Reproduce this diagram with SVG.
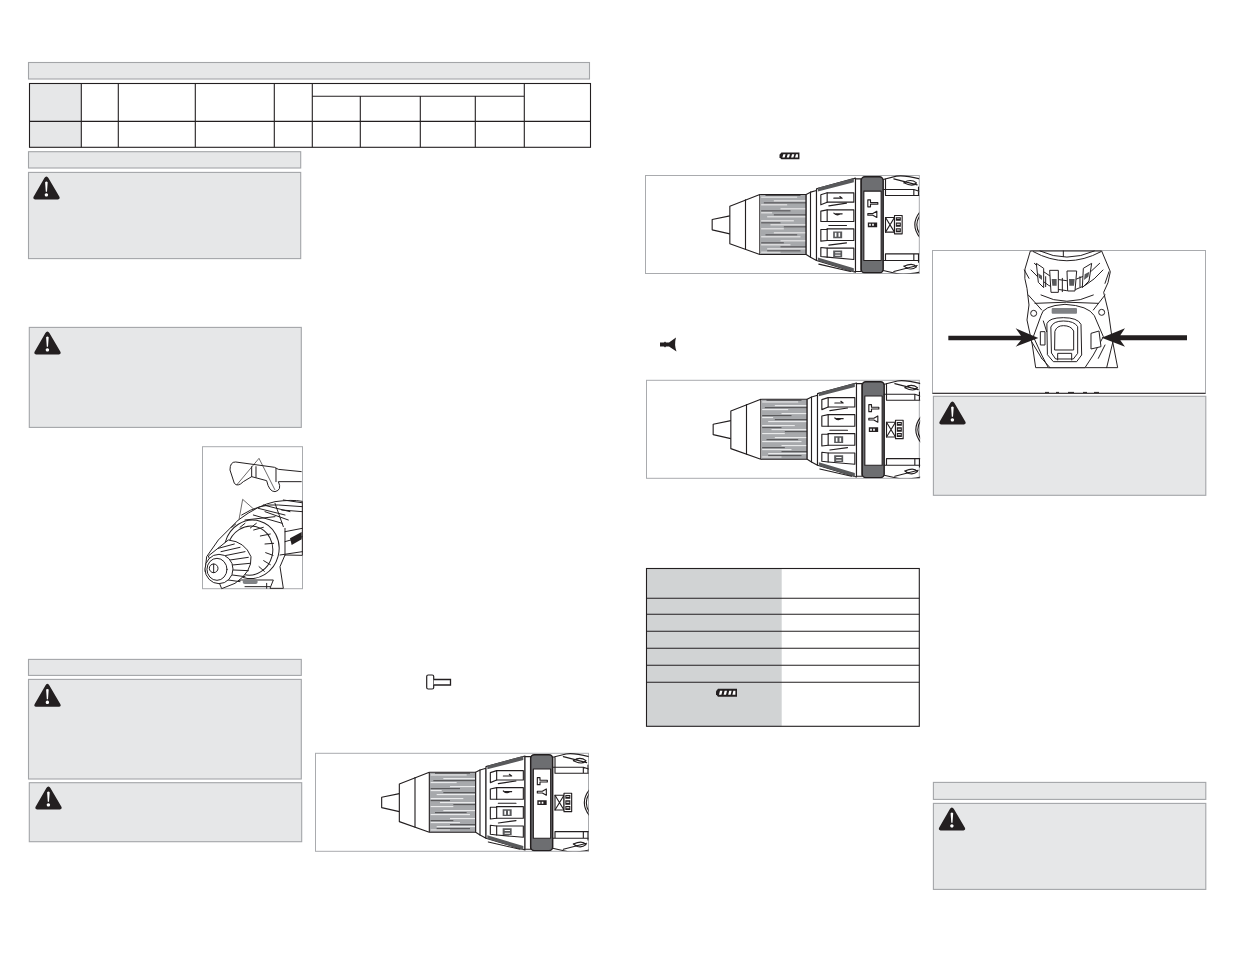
<svg xmlns="http://www.w3.org/2000/svg" width="1235" height="954" viewBox="0 0 1235 954">
<style>
.band{fill:#e6e7e8;stroke:#a3a5a8;stroke-width:1.1}
.tl{stroke:#231f20;stroke-width:1.1;fill:none}
.frame{fill:#fff;stroke:#a9abae;stroke-width:1}
.d{fill:none;stroke:#231f20;stroke-width:3.4;stroke-linejoin:round;stroke-linecap:round}
.dw{fill:#fff;stroke:#231f20;stroke-width:3.4;stroke-linejoin:round}
.dg{fill:#6d6e71;stroke:#231f20;stroke-width:4.5}
.k{fill:#231f20}
.m{fill:#58595b}
.gs{stroke:#fff;stroke-width:2.6;fill:none}
.ks{stroke:#414042;stroke-width:2.6;fill:none}
.p{fill:none;stroke:#231f20;stroke-width:3;stroke-linejoin:round;stroke-linecap:round}
.pt{fill:none;stroke:#231f20;stroke-width:2}
.pw{fill:#fff;stroke:#231f20;stroke-width:3;stroke-linejoin:round}
</style>
<defs>
<clipPath id="dc"><rect x="0" y="0" width="836" height="384"/></clipPath>
<g id="warn">
<path class="k" d="M13.4 0.4Q14.6 0.4 15.4 2L26.4 20.8Q27.4 23.2 25 23.4H2Q-0.4 23.2 0.6 20.8L11.4 2Q12.2 0.4 13.4 0.4Z"/>
<path fill="#fff" d="M12.1 6.2Q13.4 4.8 14.7 6.2L14 15.8H12.8ZM13.4 17.2a1.7 1.7 0 1 1 -0.01 0Z"/>
</g>
<g id="batt">
<path class="k" d="M0 2.5L2 0H21V8H2L0 5.5Z"/>
<path fill="#fff" d="M4 2h2.4l-1 4H3ZM8.6 2H11l-1 4H7.6ZM13.2 2h2.4l-1 4h-2.4ZM17.4 2h2v4h-3Z"/>
</g>
<g id="drill" clip-path="url(#dc)">
<path class="d" d="M268 211L215 222V253L268 265"/>
<path class="dw" d="M268 182L358 147V327L268 295Z"/>
<path class="d" d="M315 163V311"/>
<rect x="360" y="148" width="137" height="179" fill="#a7a9ac"/>
<path class="gs" d="M362 155H470M400 166H497M362 178H440M420 190H497M362 202H395M380 214H497M362 226H460M390 238H497M362 250H430M400 262H497M362 274H480M420 286H497M362 298H450M380 310H497M362 320H420"/>
<path class="ks" d="M375 150H480M370 172H497M362 196H450M400 208H497M362 232H420M430 244H497M375 268H470M362 292H430M420 304H497M380 316H480"/>
<path class="d" d="M360 147H497M360 327H497M497 147V327"/>
<path class="dw" d="M497 147L510 140L528 135V345L510 335L497 327Z"/>
<path class="d" d="M510 140V335"/>
<path class="dw" d="M528 130L645 98V380L528 345Z"/>
<path class="m" d="M532 127L640 98V110L532 138ZM532 346L640 380V368L532 336Z"/>
<g class="dw">
<path d="M541 148L560 142H640V170H560L541 178Z"/>
<path d="M541 197L560 193H640V228H560L541 228Z"/>
<path d="M541 252H560V250H640V285H560L541 287Z"/>
<path d="M541 306L560 308H640V342L560 335L541 333Z"/>
</g>
<path class="d" d="M560 142V170M560 193V228M560 250V285M560 308V335"/>
<path class="d" d="M565 181L618 173M565 240H618M565 299L618 292M535 356L630 378"/>
<path class="d" stroke-width="2.4" d="M580 158H605L598 153M585 205H605M580 203Q590 212 600 205"/>
<path class="m" d="M578 258H605V278H578ZM578 315H605V335H578Z"/>
<path fill="#fff" d="M583 262H588V274H583ZM594 262H599V274H594ZM584 320H600V323H584ZM584 328H600V331H584Z"/>
<path class="dw" d="M645 100H662V378H645Z"/>
<rect class="dg" x="662" y="94" width="66" height="288" rx="11"/>
<rect class="dw" x="670" y="137" width="52" height="208"/>
<path class="d" stroke-width="3" d="M682 163H690V171H712V176H690V184H682Z"/>
<path class="d" stroke-width="3" d="M682 204H697L709 197V216L697 209H682Z"/>
<path class="k" d="M682 231H710V245H682Z"/>
<path fill="#fff" d="M686 235H691V241H686ZM695 235H700V241H695Z"/>
<path class="d" stroke-width="3" d="M728 132H820L838 138M735 132V100M728 102L768 92Q790 88 838 100M760 100L830 118M790 112Q810 98 828 112Q818 126 790 112M820 132V150M834 125V150M735 150H838M735 132V150"/>
<path class="d" stroke-width="3" d="M728 345H838M735 325H838M735 325V345M820 325V345M834 325V350M728 375L768 384Q790 390 838 380M760 378L830 360M790 362Q810 378 828 364Q818 350 790 362"/>
<path class="d" stroke-width="3" d="M838 200Q808 238 838 276M838 210Q820 238 838 266"/>
<path class="dw" stroke-width="3" d="M735 216H762V260H735Z"/>
<path class="d" stroke-width="3" d="M735 216L762 260M762 216L735 260"/>
<rect class="dw" stroke-width="3" x="762" y="210" width="23" height="55"/>
<path class="k" d="M766 215H781V226H766ZM766 231H781V244H766ZM766 248H781V260H766Z"/>
<path fill="#fff" d="M769 218H778V220H769ZM769 235H778V238H769ZM769 252H778V255H769Z"/>
</g>
</defs>

<g id="header-specs"><rect class="band" x="28.5" y="62.5" width="561" height="16.5"/></g>
<g id="spec-table">
<rect x="29.5" y="83.5" width="51.8" height="63.8" fill="#e6e7e8"/>
<rect class="tl" x="29.5" y="83.5" width="561" height="63.8"/>
<path class="tl" d="M81.3 83.5V147.3M118.3 83.5V147.3M195.3 83.5V147.3M274.3 83.5V147.3M312.3 83.5V147.3M360.3 96.3V147.3M420.3 96.3V147.3M475.3 96.3V147.3M524.3 83.5V147.3M29.5 121.4H590.5M312.3 96.3H524.3"/>
</g>
<g id="header-symbology"><rect class="band" x="28.5" y="151.7" width="272.2" height="16.3"/></g>
<g id="warning-1"><rect class="band" x="28.5" y="172.4" width="272.2" height="86.2"/><use href="#warn" x="33" y="176"/></g>
<g id="warning-2"><rect class="band" x="29.3" y="327.4" width="272" height="100"/><use href="#warn" x="34" y="331"/></g>

<g id="photo-handle">
<rect class="frame" x="202.5" y="446.7" width="100" height="142"/>
<g transform="translate(195 440) scale(.33333)">
<path class="pw" d="M320 95L250 88Q240 80 225 80L122 66Q105 65 105 90L118 130Q128 142 145 125L170 110L215 122Q222 155 240 155Q262 150 250 125L320 125"/>
<path class="p" d="M170 80V110M183 80V112M243 85V125"/>
<path class="pt" d="M192 55L125 135M192 55L240 150M143 178L130 250M143 178L230 255"/>
<path class="pw" d="M130 240Q190 195 240 185Q290 178 322 184V346L270 345L255 380L265 445H225L235 420H140L70 430L30 395L35 350L70 300Z"/>
<path class="p" d="M140 225Q195 190 250 195L322 200M190 205L270 225M205 195L285 215M260 210L322 215M150 240L240 230M270 275L322 265M270 305L322 290M270 265V345M240 190L265 260M210 215L280 240M175 225L262 250M265 180L320 188M255 345L322 335"/>
<path fill="#231f20" d="M285 295L320 276V298L290 315Z"/>
<ellipse class="pw" cx="170" cy="328" rx="82" ry="88" transform="rotate(15 170 328)"/>
<ellipse class="p" cx="165" cy="332" rx="68" ry="74" transform="rotate(15 165 332)"/>
<path class="p" stroke-width="6" d="M176 270L205 262M196 288L226 282M210 312L236 310M212 338L234 346M206 362L226 374M192 380L208 394M166 264L184 250M135 262L150 250M110 262L122 252"/>
<path class="pw" d="M40 348L100 300Q150 305 168 350Q172 395 120 430L80 446Z"/>
<path class="p" d="M70 325L118 312M78 335L135 322M90 347L150 335M105 360L160 352M112 375L165 370M115 390L160 392M112 405L150 410M100 420L135 425"/>
<ellipse class="pw" cx="72" cy="387" rx="42" ry="44"/>
<ellipse class="p" cx="66" cy="388" rx="30" ry="33"/>
<circle class="pw" cx="56" cy="385" r="13"/>
<path class="p" d="M56 372V398"/>
<rect x="143" y="419" width="45" height="13" rx="6" fill="#808285"/>
<path class="p" d="M215 430V445M150 440L225 440"/>
</g>
</g>

<g id="header-maintenance"><rect class="band" x="28.5" y="659.4" width="272.8" height="16"/></g>
<g id="warning-3"><rect class="band" x="28.5" y="679.4" width="272.8" height="99.6"/><use href="#warn" x="34" y="683.4"/></g>
<g id="warning-4"><rect class="band" x="29.3" y="782.7" width="272.4" height="59"/><use href="#warn" x="35" y="786"/></g>

<g id="icon-hammer">
<rect x="426.7" y="675" width="7" height="14" rx="1.5" fill="#fff" stroke="#231f20" stroke-width="1.2"/>
<path d="M433.7 679.5H450.5V685H433.7" fill="#fff" stroke="#231f20" stroke-width="1.3"/>
</g>
<g id="figure-hammer">
<rect class="frame" x="315.5" y="753.3" width="273" height="98"/>
<g transform="translate(310 723.3) scale(.33333)"><use href="#drill"/></g>
</g>

<g id="icon-battery-top"><use href="#batt" transform="translate(779.5 152.5) scale(.95 .85)"/></g>
<g id="figure-battery">
<rect class="frame" x="645.5" y="175.5" width="273.8" height="98"/>
<g transform="translate(640.5 145.5) scale(.33333)"><use href="#drill"/></g>
</g>
<g id="icon-screw">
<path class="k" d="M660 342.5H664L665 341.5L666 342.5H669L676 337.5Q674 344.5 676.5 351.5L669 346.5H666L665 347.5L664 346.5H660Z"/>
</g>
<g id="figure-screw">
<rect class="frame" x="646.5" y="380.3" width="272.8" height="98"/>
<g transform="translate(641.5 350.3) scale(.33333)"><use href="#drill"/></g>
</g>

<g id="torque-table">
<rect x="646.5" y="568.5" width="135.2" height="157.8" fill="#d1d3d4"/>
<rect class="tl" x="646.5" y="568.5" width="272.8" height="157.8"/>
<path class="tl" d="M646.5 598.3H919.3M646.5 614.3H919.3M646.5 631.3H919.3M646.5 648.3H919.3M646.5 665.3H919.3M646.5 682.3H919.3"/>
<use href="#batt" x="716" y="688.8"/>
</g>

<g id="figure-top-view">
<rect class="frame" x="932.5" y="250.5" width="273" height="142.8"/>
<path stroke="#231f20" stroke-width="1" d="M932.5 393.3H1205.5"/>
<path stroke="#231f20" stroke-width="1" fill="none" d="M1045 392.4h4M1056 392.4h3M1068 392.4h6M1083 392.4h4M1094 392.4h5"/>
<g transform="translate(925 245) scale(.33333)">
<path class="pw" d="M316 18L300 72Q296 100 306 130L312 180L306 225L322 300L332 368H578L562 285L550 200L536 142Q552 115 556 80L530 18Z"/>
<path class="p" d="M318 75Q425 200 534 75M328 55Q425 160 524 55M325 20Q425 75 528 20M345 18Q425 55 508 18M415 18V35"/>
<g class="pw">
<path d="M334 55L356 70V128L340 112Z"/>
<path d="M374 76H400V142H378Z"/>
<path d="M426 78H455L450 138H428Z"/>
<path d="M475 70L500 55L492 108L472 128Z"/>
</g>
<path class="m" d="M339 85L351 92V105L342 98ZM380 102H395V122H382ZM432 102H449L447 122H433ZM479 88L493 80L490 95L477 105Z"/>
<path class="p" d="M362 95V125M412 100V140M465 95V125M298 75L312 100M552 80L540 115"/>
<path class="p" d="M310 150L350 195M540 150L505 195M348 150Q425 188 505 150M330 175Q425 168 520 175"/>
<circle class="pw" cx="326" cy="205" r="9"/>
<circle class="pw" cx="530" cy="202" r="9"/>
<path class="pw" d="M348 212Q352 182 420 178Q490 182 508 212L535 275L505 330L480 368H370L350 330L325 275Z"/>
<rect x="380" y="189" width="76" height="17" rx="3" fill="#808285"/>
<path class="p" d="M366 235Q372 218 415 218Q458 218 468 238L470 330L455 350H385L368 330Z"/>
<path class="p" d="M378 245Q385 228 415 228Q448 228 458 245L458 325L445 342H392L380 325Z"/>
<path class="p" d="M390 258Q395 242 415 242Q438 242 446 258V315H390ZM398 345V325H440V345M355 228L365 260"/>
<path class="pw" d="M346 260H360V300H346ZM498 265L522 258L528 305L498 312Z"/>
<path class="p" d="M320 290L350 340M540 300L520 340M350 340L375 368M565 285L545 368"/>
<path class="k" d="M70 272H288L272 250L340 279L272 305L288 286H70Z"/>
<path class="k" d="M786 271H586L600 250L530 278L600 305L586 286H786Z"/>
</g>
</g>

<g id="warning-5"><rect class="band" x="933.4" y="396.3" width="272.4" height="99"/><use href="#warn" x="939" y="401"/></g>
<g id="header-accessories"><rect class="band" x="933.4" y="782.4" width="272.4" height="17"/></g>
<g id="warning-6"><rect class="band" x="933.4" y="803.4" width="272.4" height="86"/><use href="#warn" x="938.5" y="807"/></g>
</svg>
